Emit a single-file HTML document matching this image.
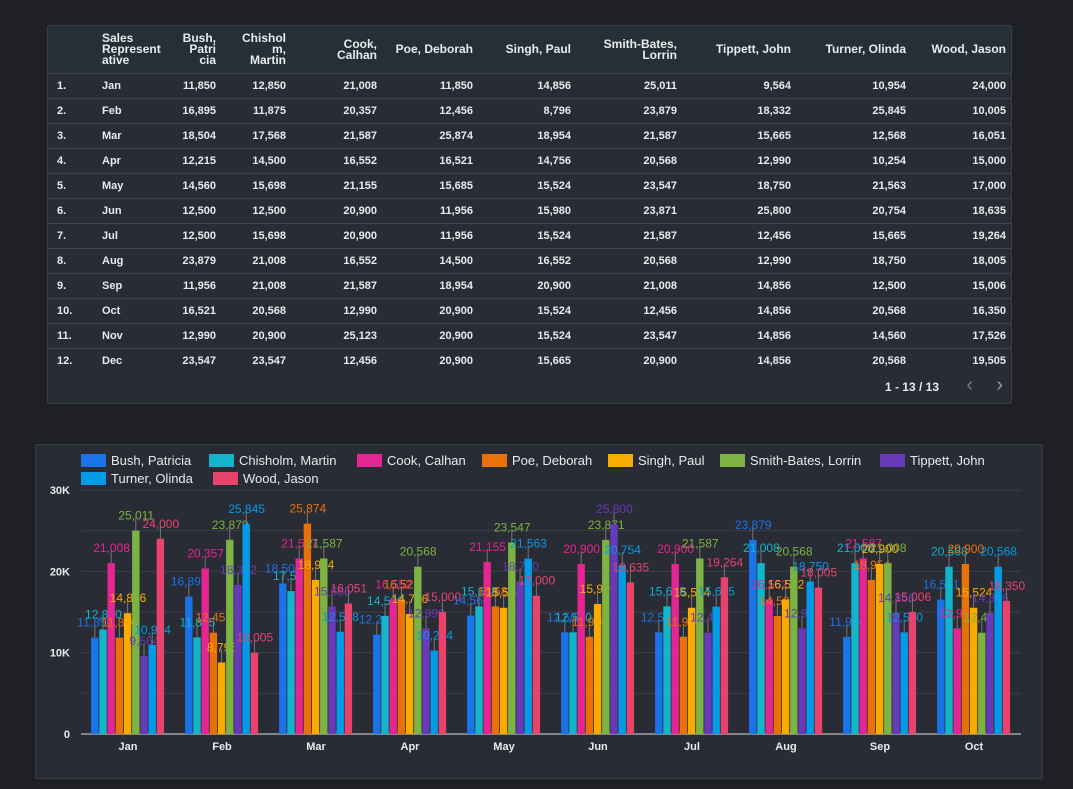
<!DOCTYPE html>
<html><head><meta charset="utf-8">
<style>
body{margin:0;width:1073px;height:789px;background:#1f2024;font-family:"Liberation Sans",sans-serif;position:relative;overflow:hidden;color:#e8eaed}
.panel{position:absolute;background:#2a2c35;border:1px solid #3a3d47;border-radius:2px}
table{border-collapse:collapse;position:absolute;left:0;top:0;width:963px;font-size:11px;table-layout:fixed}
th{background:#243036;color:#e8eaed;font-weight:bold;font-size:12px;line-height:11px;height:47px;text-align:right;vertical-align:middle;padding:0 5px;overflow:hidden}
td{height:24px;border-top:1px solid #3f434e;text-align:right;padding:0 5px;font-weight:bold}
td.l,th.l{text-align:left}
td.i{padding-left:9px}
</style></head><body>
<div class="panel" style="left:47px;top:25px;width:963px;height:377px">
<table>
<colgroup><col style="width:49px"><col style="width:76px"><col style="width:48px"><col style="width:70px"><col style="width:91px"><col style="width:96px"><col style="width:98px"><col style="width:106px"><col style="width:114px"><col style="width:115px"><col style="width:100px"></colgroup>
<thead><tr>
<th class="l"></th>
<th class="l">Sales<br>Represent<br>ative</th>
<th>Bush,<br>Patri<br>cia</th>
<th>Chishol<br>m,<br>Martin</th>
<th>Cook,<br>Calhan</th>
<th>Poe, Deborah</th>
<th>Singh, Paul</th>
<th>Smith-Bates,<br>Lorrin</th>
<th>Tippett, John</th>
<th>Turner, Olinda</th>
<th>Wood, Jason</th>
</tr></thead>
<tbody id="tb"></tbody></table>
<div style="position:absolute;right:72px;top:354px;font-size:12px;font-weight:bold">1 - 13 / 13</div>
<div style="position:absolute;right:38px;top:348px;font-size:20px;color:#777">‹</div>
<div style="position:absolute;right:8px;top:348px;font-size:20px;color:#999">›</div>
</div>
<div class="panel" style="left:35px;top:444px;width:1006px;height:333px"></div>
<svg id="chart" width="1073" height="789" style="position:absolute;left:0;top:0"></svg>
<script>
const months=["Jan","Feb","Mar","Apr","May","Jun","Jul","Aug","Sep","Oct","Nov","Dec"];
const series=["Bush, Patricia","Chisholm, Martin","Cook, Calhan","Poe, Deborah","Singh, Paul","Smith-Bates, Lorrin","Tippett, John","Turner, Olinda","Wood, Jason"];
const bush=[11850,16895,18504,12215,14560,12500,12500,23879,11956,16521,12990,23547];
const chisholm=[12850,11875,17568,14500,15698,12500,15698,21008,21008,20568,20900,23547];
const cook=[21008,20357,21587,16552,21155,20900,20900,16552,21587,12990,25123,12456];
const poe=[11850,12456,25874,16521,15685,11956,11956,14500,18954,20900,20900,20900];
const singh=[14856,8796,18954,14756,15524,15980,15524,16552,20900,15524,15524,15665];
const smith=[25011,23879,21587,20568,23547,23871,21587,20568,21008,12456,23547,20900];
const tippett=[9564,18332,15665,12990,18750,25800,12456,12990,14856,14856,14856,14856];
const turner=[10954,25845,12568,10254,21563,20754,15665,18750,12500,20568,14560,20568];
const wood=[24000,10005,16051,15000,17000,18635,19264,18005,15006,16350,17526,19505];
const values=[bush,chisholm,cook,poe,singh,smith,tippett,turner,wood];
const colors=["#1a73e8","#12b5cb","#e52592","#e8710a","#f9ab00","#7cb342","#673ab7","#039be5","#e8436d"];
const yTicks=[0,10000,20000,30000];
const yTickLabels=["0","10K","20K","30K"];
const chartMonths=10;
const fmt=v=>v.toLocaleString("en-US");
const tb=document.getElementById("tb");
months.forEach((m,i)=>{
  const tr=document.createElement("tr");
  
  
  let h='<td class="l i">'+(i+1)+'.</td><td class="l">'+m+'</td>';
  values.forEach(s=>{h+='<td>'+fmt(s[i])+'</td>';});
  tr.innerHTML=h;tb.appendChild(tr);
});
const svg=document.getElementById("chart");const NS="http://www.w3.org/2000/svg";
function el(t,a,txt){const e=document.createElementNS(NS,t);for(const k in a)e.setAttribute(k,a[k]);if(txt!==undefined)e.textContent=txt;svg.appendChild(e);return e;}
const x0=81,x1=1021,yBase=734,yTop=490,maxV=30000;
const y=v=>yBase-(v/maxV)*(yBase-yTop);
const gw=(x1-x0)/chartMonths;const bw=8.2;
for(let v=5000;v<=30000;v+=5000){const g=el("line",{x1:x0,x2:x1,y1:y(v),y2:y(v),stroke:"#3a3d48","stroke-width":1});
}
yTicks.forEach((t,i)=>{const e=el("text",{x:70,y:y(t)+4,"text-anchor":"end","font-size":11,"font-weight":"bold",fill:"#e8eaed"},yTickLabels[i]);
});
const ax=el("line",{x1:x0,x2:x1,y1:yBase,y2:yBase,stroke:"#ddd","stroke-width":1});

for(let m=0;m<chartMonths;m++){
  const cx=x0+gw*(m+0.5);
  const lt=el("text",{x:cx,y:750,"text-anchor":"middle","font-size":11,"font-weight":"bold",fill:"#e8eaed"},months[m]);
  
  values.forEach((s,k)=>{
    const bx=cx-(series.length*bw)/2+k*bw;const v=s[m];
    const r=el("rect",{x:bx,y:y(v),width:bw-0.8,height:yBase-y(v),fill:colors[k]});
    
    
    const eb=el("line",{x1:bx+bw/2-0.4,x2:bx+bw/2-0.4,y1:y(v),y2:y(v)-13,stroke:"#777","stroke-width":1});
    
    const lb=el("text",{x:bx+bw/2,y:y(v)-11,"text-anchor":"middle","font-size":12,fill:colors[k]},fmt(v));
    
  });
}
const legX=[81,209,357,482,608,720,880,81,213];const legY=[460,460,460,460,460,460,460,478,478];
series.forEach((n,k)=>{
  const sw=el("rect",{x:legX[k],y:legY[k]-6,width:25,height:13,fill:colors[k]});
  
  const t=el("text",{x:legX[k]+30,y:legY[k]+5,"font-size":13,fill:"#e8eaed"},n);
  
});
</script>
</body></html>
